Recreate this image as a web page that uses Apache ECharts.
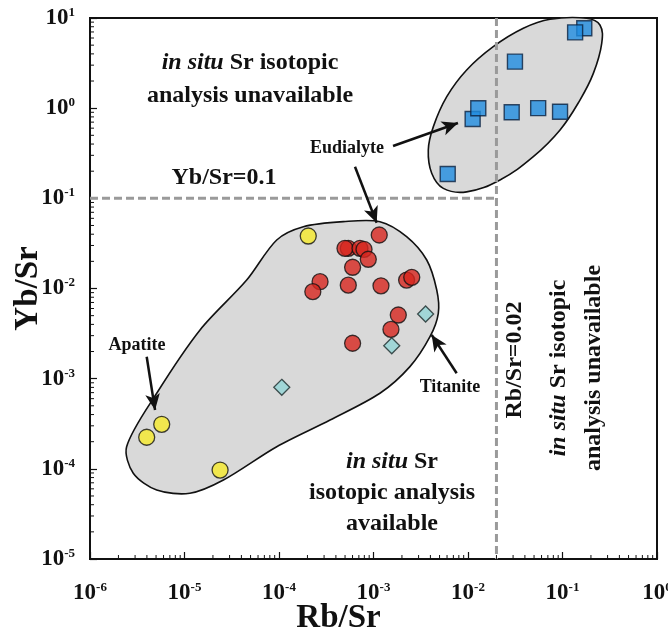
<!DOCTYPE html>
<html>
<head>
<meta charset="utf-8">
<script src="https://cdn.jsdelivr.net/npm/echarts@6/dist/echarts.min.js"></script>
<style>html,body{margin:0;padding:0;background:#fff;}#c{width:668px;height:637px;}</style>
</head>
<body>
<div id="c"></div>
<script>
// ---- data ----
const apatiteX = [2.04e-4, 5.74e-6, 3.98e-6, 2.38e-5];
const apatiteY = [3.82e-2, 3.12e-4, 2.24e-4, 9.7e-5];

const redX = [1.15e-3, 5.41e-4, 4.99e-4, 7.19e-4, 7.94e-4, 8.81e-4, 6.01e-4, 2.72e-4, 2.28e-4, 5.41e-4, 1.20e-3, 2.24e-3, 2.54e-3, 1.83e-3, 1.53e-3, 6.01e-4];
const redY = [3.92e-2, 2.79e-2, 2.79e-2, 2.79e-2, 2.72e-2, 2.11e-2, 1.72e-2, 1.19e-2, 9.23e-3, 1.09e-2, 1.07e-2, 1.24e-2, 1.33e-2, 5.08e-3, 3.52e-3, 2.47e-3];

const titaniteX = [1.07e-4, 1.56e-3, 3.56e-3];
const titaniteY = [8.02e-4, 2.32e-3, 5.21e-3];

const eudialyteX = [0.170, 0.136, 0.0314, 0.0112, 0.01285, 0.0290, 0.0553, 0.0942, 0.0061];
const eudialyteY = [7.69, 6.93, 3.28, 0.759, 0.997, 0.90, 1.0, 0.914, 0.186];

// envelope outlines (data space)
const lowerEnvX = [2.44e-6, 5.08e-6, 1.46e-5, 4.55e-5, 9.46e-5, 1.81e-4, 4.79e-4, 1.17e-3, 2.24e-3, 3.66e-3, 4.67e-3, 4.85e-3, 3.96e-3, 2.43e-3, 1.17e-3, 3.47e-4, 9.46e-5, 2.58e-5, 1.14e-5, 5.08e-6, 2.87e-6];
const lowerEnvY = [1.76e-4, 6.89e-4, 3.47e-3, 1.24e-2, 3.45e-2, 4.84e-2, 5.51e-2, 5.51e-2, 3.76e-2, 2.07e-2, 9.62e-3, 5.31e-3, 2.92e-3, 1.36e-3, 6.89e-4, 3.48e-4, 1.76e-4, 7.52e-5, 5.36e-5, 5.82e-5, 8.93e-5];
const upperEnvX = [0.180, 0.249, 0.260, 0.212, 0.153, 0.0942, 0.0491, 0.0218, 0.00968, 0.00548, 0.00413, 0.00380, 0.00430, 0.00596, 0.00968, 0.0185, 0.0385, 0.0738];
const upperEnvY = [9.93, 8.36, 5.24, 2.43, 1.23, 0.573, 0.290, 0.160, 0.118, 0.129, 0.190, 0.344, 0.624, 1.34, 2.65, 4.81, 7.69, 9.68];

// threshold lines
const ybSrLimit = 0.1;
const rbSrLimit = 0.02;
const xRange = [1e-6, 1];
const yRange = [1e-5, 10];

// minor tick multipliers within each decade
const minorMultipliers = [2, 3, 4, 5, 6, 7, 8, 9];
const xDecades = [1e-6, 1e-5, 1e-4, 1e-3, 1e-2, 1e-1];
const yDecades = [1e-5, 1e-4, 1e-3, 1e-2, 1e-1, 1];

// annotation arrows [from, to]
const arrows = [
  [[1.61e-3, 0.381], [7.83e-3, 0.685]],
  [[6.37e-4, 0.224], [1.08e-3, 0.0537]],
  [[3.98e-6, 1.75e-3], [4.88e-6, 4.50e-4]],
  [[7.59e-3, 1.15e-3], [4.13e-3, 3.05e-3]]
];

// ---- chart ----
const FONT = '"Liberation Serif", "Times New Roman", serif';
const zip = (xs, ys) => xs.map((x, i) => [x, ys[i]]);

const xMinor = [];
xDecades.forEach(d => minorMultipliers.forEach(m => xMinor.push(d * m)));
const yMinor = [];
yDecades.forEach(d => minorMultipliers.forEach(m => yMinor.push(d * m)));

function envelopeSeries(xs, ys, smooth) {
  return {
    type: 'custom',
    silent: true,
    clip: false,
    data: [[xs[0], ys[0]]],
    renderItem: function (params, api) {
      const pts = xs.map((x, i) => api.coord([x, ys[i]]));
      return {
        type: 'polygon',
        shape: { points: pts, smooth: smooth },
        style: { fill: '#d9d9d9', stroke: '#111', lineWidth: 1.6 }
      };
    },
    z: 1
  };
}

// minor ticks (log-spaced), drawn inward from the axes
const minorTickSeries = {
  type: 'custom',
  silent: true,
  clip: false,
  z: 6,
  data: xMinor.map(v => [v, yRange[0], 0]).concat(yMinor.map(v => [xRange[0], v, 1])),
  renderItem: function (params, api) {
    const p = api.coord([api.value(0), api.value(1)]);
    const isY = api.value(2) === 1;
    return {
      type: 'line',
      shape: isY ? { x1: p[0], y1: p[1], x2: p[0] + 4, y2: p[1] } : { x1: p[0], y1: p[1], x2: p[0], y2: p[1] - 4 },
      style: { stroke: '#111', lineWidth: 1 }
    };
  }
};

const tickLabel = {
  formatter: function (v) {
    const e = Math.round(Math.log10(v));
    return '{b|10}{s|' + e + '}';
  },
  rich: {
    b: { fontFamily: FONT, fontWeight: 'bold', fontSize: 23, color: '#111', lineHeight: 24 },
    s: { fontFamily: FONT, fontWeight: 'bold', fontSize: 13, color: '#111', verticalAlign: 'top', lineHeight: 24, padding: [0, 0, 9, 0] }
  }
};

const chart = echarts.init(document.getElementById('c'), null, { renderer: 'canvas' });

const boldText = (size) => ({ fontFamily: FONT, fontWeight: 'bold', fontSize: size, fill: '#111' });

function richRegion(text, size, lh) {
  return {
    text: text,
    fontFamily: FONT, fontWeight: 'bold', fontSize: size, fill: '#111',
    lineHeight: lh,
    textAlign: 'center', textVerticalAlign: 'middle',
    rich: {
      i: { fontFamily: FONT, fontWeight: 'bold', fontStyle: 'italic', fontSize: size, fill: '#111', lineHeight: lh },
      n: { fontFamily: FONT, fontWeight: 'bold', fontSize: size, fill: '#111', lineHeight: lh }
    }
  };
}

chart.setOption({
  animation: false,
  backgroundColor: '#fff',
  grid: {
    left: 90, right: 11, top: 18, bottom: 78,
    containLabel: false, outerBoundsMode: 'none',
    show: true, borderColor: '#111', borderWidth: 2, backgroundColor: 'transparent'
  },
  xAxis: {
    type: 'log', logBase: 10, min: xRange[0], max: xRange[1],
    name: 'Rb/Sr', nameLocation: 'middle', nameGap: 43, nameMoveOverlap: false,
    nameTextStyle: { fontFamily: FONT, fontWeight: 'bold', fontSize: 33, color: '#111', padding: [0, 70, 0, 0] },
    axisLine: { show: true, lineStyle: { color: '#111', width: 2 } },
    axisTick: { show: true, inside: true, length: 7, lineStyle: { color: '#111', width: 1.2 } },
    minorTick: { show: false },
    splitLine: { show: false },
    axisLabel: Object.assign({ margin: 22, showMinLabel: true, showMaxLabel: true }, tickLabel)
  },
  yAxis: {
    type: 'log', logBase: 10, min: yRange[0], max: yRange[1],
    name: 'Yb/Sr', nameLocation: 'middle', nameGap: 45, nameRotate: 90, nameMoveOverlap: false,
    nameTextStyle: { fontFamily: FONT, fontWeight: 'bold', fontSize: 33, color: '#111' },
    axisLine: { show: true, lineStyle: { color: '#111', width: 2 } },
    axisTick: { show: true, inside: true, length: 7, lineStyle: { color: '#111', width: 1.2 } },
    minorTick: { show: false },
    splitLine: { show: false },
    axisLabel: Object.assign({ margin: 15, showMinLabel: true, showMaxLabel: true }, tickLabel)
  },
  series: [
    envelopeSeries(lowerEnvX, lowerEnvY, 0.3),
    envelopeSeries(upperEnvX, upperEnvY, 0.4),
    minorTickSeries,
    {
      type: 'line', symbol: 'none', silent: true, z: 2,
      data: [[xRange[0], ybSrLimit], [rbSrLimit, ybSrLimit]],
      lineStyle: { color: '#9a9a9a', width: 3, type: [8, 4] }
    },
    {
      type: 'line', symbol: 'none', silent: true, z: 2,
      data: [[rbSrLimit, yRange[1]], [rbSrLimit, yRange[0]]],
      lineStyle: { color: '#9a9a9a', width: 3, type: [8, 4] },
      markLine: {
        silent: true, symbol: ['none', 'arrow'], symbolSize: [11, 16], label: { show: false },
        lineStyle: { color: '#111', width: 2.5, type: 'solid' },
        data: arrows.map(a => [{ coord: a[0] }, { coord: a[1] }])
      }
    },
    {
      type: 'scatter', name: 'Apatite', z: 5, data: zip(apatiteX, apatiteY),
      symbol: 'circle', symbolSize: 16,
      itemStyle: { color: '#f6ea2a', borderColor: '#111', borderWidth: 1.3 }
    },
    {
      type: 'scatter', name: 'Other', z: 5, data: zip(redX, redY),
      symbol: 'circle', symbolSize: 16,
      itemStyle: { color: '#d7261e', borderColor: '#111', borderWidth: 1.3 }
    },
    {
      type: 'scatter', name: 'Titanite', z: 5, data: zip(titaniteX, titaniteY),
      symbol: 'diamond', symbolSize: 16,
      itemStyle: { color: '#92d4d6', borderColor: '#1a2a2a', borderWidth: 1.3 }
    },
    {
      type: 'scatter', name: 'Eudialyte', z: 5, data: zip(eudialyteX, eudialyteY),
      symbol: 'rect', symbolSize: 15,
      itemStyle: { color: '#1f8ce0', borderColor: '#0b2240', borderWidth: 1.4 }
    }
  ],
  graphic: [
    { type: 'text', x: 250, y: 79, z: 10, style: richRegion('{i|in situ}{n| Sr isotopic}\n{n|analysis unavailable}', 24, 33) },
    { type: 'text', x: 224, y: 178, z: 10, style: Object.assign(boldText(24), { text: 'Yb/Sr=0.1', textAlign: 'center', textVerticalAlign: 'middle' }) },
    { type: 'text', x: 347, y: 148, z: 10, style: Object.assign(boldText(18), { text: 'Eudialyte', textAlign: 'center', textVerticalAlign: 'middle' }) },
    { type: 'text', x: 137, y: 345, z: 10, style: Object.assign(boldText(18), { text: 'Apatite', textAlign: 'center', textVerticalAlign: 'middle' }) },
    { type: 'text', x: 450, y: 387, z: 10, style: Object.assign(boldText(18), { text: 'Titanite', textAlign: 'center', textVerticalAlign: 'middle' }) },
    { type: 'text', x: 392, y: 493, z: 10, style: richRegion('{i|in situ}{n| Sr}\n{n|isotopic analysis}\n{n|available}', 24, 31) },
    { type: 'text', x: 515, y: 360, rotation: Math.PI / 2, z: 10, style: Object.assign(boldText(24), { text: 'Rb/Sr=0.02', textAlign: 'center', textVerticalAlign: 'middle' }) },
    { type: 'text', x: 576, y: 368, rotation: Math.PI / 2, z: 10, style: richRegion('{i|in situ}{n| Sr isotopic}\n{n|analysis unavailable}', 24, 35) }
  ]
});
</script>
</body>
</html>
